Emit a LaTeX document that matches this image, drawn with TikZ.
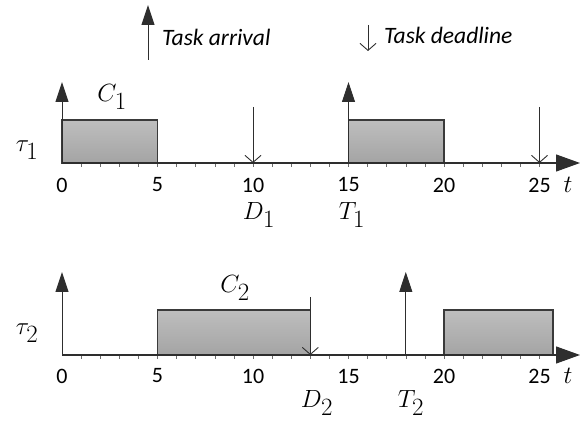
\documentclass[tikz,border=0pt]{standalone}
\usepackage{fontspec}
\setmainfont{Carlito}
\usetikzlibrary{arrows.meta}
\definecolor{axisgray}{HTML}{2E2E2E}
\definecolor{boxedge}{HTML}{3A3A3A}
\definecolor{boxtop}{HTML}{BEBEBE}
\definecolor{boxbot}{HTML}{A4A4A4}
\begin{document}
\begin{tikzpicture}[x=1pt,y=1pt,
  axisline/.style={draw=axisgray, line width=1.2pt, -{Triangle[length=24pt,width=17pt]}},
  release/.style={draw=axisgray, line width=1pt, -{Triangle[length=20pt,width=13pt]}},
  due/.style={draw=axisgray, line width=0.9pt, -{Straight Barb[length=7pt,width=16pt,line width=0.9pt]}},
  job/.style={draw=boxedge, line width=1.1pt, top color=boxtop, bottom color=boxbot},
  tickmark/.style={draw=axisgray!70, line width=0.6pt},
  ticklbl/.style={font=\fontsize{22}{22}\selectfont, inner sep=0pt},
  symb/.style={font=\fontsize{34}{34}\selectfont, inner sep=0pt},
  legend/.style={font=\itshape\fontsize{23.5}{23.5}\selectfont, anchor=west, inner sep=0pt}]
\useasboundingbox (0,0) rectangle (585,422);
\def\u{19.1}
\def\xo{62}

% ---------- legend ----------
\coordinate (la0) at (148,362);
\coordinate (la1) at (148,417);
\draw[release] (la0) -- (la1);
\node[legend] (arrtxt) at (162,385) {Task arrival};
\coordinate (ld0) at (368,397);
\coordinate (ld1) at (368,371);
\draw[due] (ld0) -- (ld1);
\node[legend] (duetxt) at (384,387) {Task deadline};

% ---------- task tau_1 ----------
\coordinate (a1s) at (\xo,259);
\coordinate (a1e) at (580,259);
\path[job] (\xo,259) rectangle ({\xo+5*\u},302);
\path[job] ({\xo+15*\u},259) rectangle ({\xo+20*\u},302);
\foreach \i in {1,...,26} \draw[tickmark] ({\xo+\i*\u},259) -- ++(0,-4);
\draw[axisline] (a1s) -- (a1e);
\foreach \t in {0,15} {
  \coordinate (r1b\t) at ({\xo+\t*\u},259);
  \coordinate (r1t\t) at ({\xo+\t*\u},340);
  \draw[release] (r1b\t) -- (r1t\t);
}
\foreach \t in {10,25} {
  \coordinate (d1t\t) at ({\xo+\t*\u},315);
  \coordinate (d1b\t) at ({\xo+\t*\u},259);
  \draw[due] (d1t\t) -- (d1b\t);
}
\foreach \t in {0,5,...,25}
  \node[ticklbl] (n1\t) at ({\xo+\t*\u},237) {\t};
\node[symb] (tv1) at (568,237) {$t$};
\node[symb] (tau1) at (27,272) {$\tau_1$};
\node[symb] (c1) at (112,325) {$C_1$};
\node[symb] (dd1) at (259,207) {$D_1$};
\node[symb] (tt1) at (352,207) {$T_1$};

% ---------- task tau_2 ----------
\coordinate (a2s) at (\xo,67);
\coordinate (a2e) at (580,67);
\path[job] ({\xo+5*\u},67) rectangle ({\xo+13*\u},112);
\path[job] ({\xo+20*\u},67) rectangle (553,112);
\foreach \i in {1,...,26} \draw[tickmark] ({\xo+\i*\u},67) -- ++(0,-4);
\draw[axisline] (a2s) -- (a2e);
\foreach \t in {0,18} {
  \coordinate (r2b\t) at ({\xo+\t*\u},67);
  \coordinate (r2t\t) at ({\xo+\t*\u},150);
  \draw[release] (r2b\t) -- (r2t\t);
}
\coordinate (d2t) at ({\xo+13*\u},125);
\coordinate (d2b) at ({\xo+13*\u},67);
\draw[due] (d2t) -- (d2b);
\foreach \t in {0,5,...,25}
  \node[ticklbl] (n2\t) at ({\xo+\t*\u},46) {\t};
\node[symb] (tv2) at (568,46) {$t$};
\node[symb] (tau2) at (27,89) {$\tau_2$};
\node[symb] (c2) at (235,134) {$C_2$};
\node[symb] (dd2) at (317,19) {$D_2$};
\node[symb] (tt2) at (411,19) {$T_2$};
\end{tikzpicture}
\end{document}
